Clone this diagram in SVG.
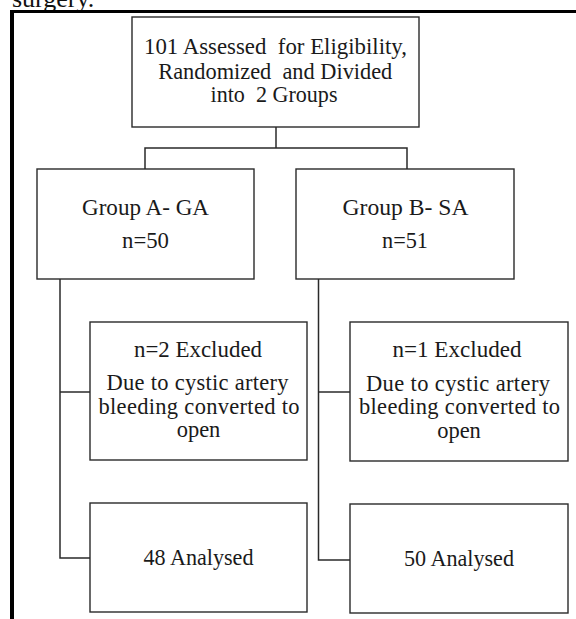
<svg xmlns="http://www.w3.org/2000/svg" width="576" height="619" viewBox="0 0 576 619">
<style>
.box{fill:#fff;stroke:#2a2a2a;stroke-width:1.4}
.t{font-family:"Liberation Serif","Times New Roman",serif;font-size:22.5px;fill:#1a1a1a;text-anchor:middle}
.c{fill:none;stroke:#2a2a2a;stroke-width:1.5}
.frame{fill:none;stroke:#000}
</style>
<rect width="576" height="619" fill="#fff"/>
<text x="12" y="7" style="font-family:'Liberation Serif','Times New Roman',serif;font-size:26px;fill:#111">surgery.</text>
<g id="frame">
<line class="frame" x1="10" y1="11.5" x2="576" y2="11.5" stroke-width="3"/>
<line class="frame" x1="12" y1="10" x2="12" y2="619" stroke-width="4"/>
</g>
<g id="connectors">
<line class="c" x1="276" y1="127" x2="276" y2="148" stroke-width="2.2" stroke="#111"/>
<polyline class="c" points="145,169 145,148 407,148 407,169"/>
<polyline class="c" points="60,279 60,558 90,558"/>
<line class="c" x1="60" y1="392" x2="90" y2="392"/>
<polyline class="c" points="318.5,279 318.5,560 350,560"/>
<line class="c" x1="318.5" y1="392" x2="350" y2="392"/>
</g>
<g id="top">
<rect class="box" x="132" y="17" width="287" height="110"/>
<text class="t" x="275.5" y="54" xml:space="preserve" textLength="263" lengthAdjust="spacingAndGlyphs">101 Assessed  for Eligibility,</text>
<text class="t" x="275.3" y="79" xml:space="preserve" textLength="234" lengthAdjust="spacingAndGlyphs">Randomized  and Divided</text>
<text class="t" x="274" y="102" xml:space="preserve" textLength="127" lengthAdjust="spacingAndGlyphs">into  2 Groups</text>
</g>
<g id="groupA">
<rect class="box" x="37" y="169" width="217" height="110"/>
<text class="t" x="145.5" y="215" textLength="127" lengthAdjust="spacingAndGlyphs">Group A- GA</text>
<text class="t" x="145.5" y="248" textLength="47" lengthAdjust="spacingAndGlyphs">n=50</text>
</g>
<g id="groupB">
<rect class="box" x="296" y="169" width="218" height="110"/>
<text class="t" x="405.5" y="215" textLength="126" lengthAdjust="spacingAndGlyphs">Group B- SA</text>
<text class="t" x="405" y="248" textLength="46" lengthAdjust="spacingAndGlyphs">n=51</text>
</g>
<g id="excludedA">
<rect class="box" x="90" y="322" width="217" height="138"/>
<text class="t" x="198" y="357" textLength="128" lengthAdjust="spacingAndGlyphs">n=2 Excluded</text>
<text class="t" x="197.5" y="390" textLength="182" lengthAdjust="spacing">Due to cystic artery</text>
<text class="t" x="199" y="413.5" textLength="201" lengthAdjust="spacing">bleeding converted to</text>
<text class="t" x="198.5" y="437">open</text>
</g>
<g id="excludedB">
<rect class="box" x="350" y="322" width="218" height="139"/>
<text class="t" x="457" y="357" textLength="129" lengthAdjust="spacingAndGlyphs">n=1 Excluded</text>
<text class="t" x="458" y="391" textLength="184" lengthAdjust="spacing">Due to cystic artery</text>
<text class="t" x="459.5" y="414" textLength="201" lengthAdjust="spacing">bleeding converted to</text>
<text class="t" x="459" y="437.5">open</text>
</g>
<g id="analysedA">
<rect class="box" x="90" y="503" width="217" height="109"/>
<text class="t" x="198.5" y="565" textLength="110" lengthAdjust="spacingAndGlyphs">48 Analysed</text>
</g>
<g id="analysedB">
<rect class="box" x="350" y="504" width="218" height="109"/>
<text class="t" x="459" y="566" textLength="110" lengthAdjust="spacingAndGlyphs">50 Analysed</text>
</g>
</svg>
